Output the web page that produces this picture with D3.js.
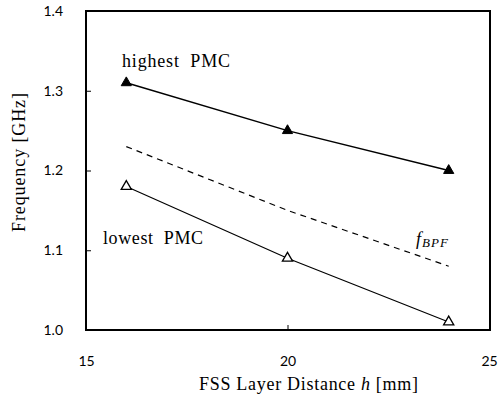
<!DOCTYPE html>
<html>
<head>
<meta charset="utf-8">
<script src="https://cdn.jsdelivr.net/npm/d3@7"></script>
<style>
  body { margin: 0; background: #fff; }
  svg text { fill: #000; }
</style>
</head>
<body>
<div class="chart"></div>
<script>
// data
var distance = [16, 20, 24];
var highestPMC = [1.31, 1.25, 1.20];
var lowestPMC = [1.18, 1.09, 1.01];
var fBPF = [1.23, 1.15, 1.08];
var xTicks = [15, 20, 25];
var yTicks = [1.0, 1.1, 1.2, 1.3, 1.4];

var svg = d3.select(".chart").append("svg")
    .attr("width", 500)
    .attr("height", 405);

var x = d3.scaleLinear().domain([15, 25]).range([86, 489]);
var y = d3.scaleLinear().domain([1.0, 1.4]).range([330, 11]);

// frame
svg.append("rect")
    .attr("x", x(15)).attr("y", y(1.4))
    .attr("width", x(25) - x(15) + 1).attr("height", y(1.0) - y(1.4))
    .attr("fill", "none").attr("stroke", "#000").attr("stroke-width", 2);

// axes, ticks pointing inward
var xAxis = d3.axisBottom(x).tickValues(xTicks).tickSize(-5).tickPadding(26)
    .tickFormat(d3.format("d"));
var gx = svg.append("g").attr("transform", "translate(0," + y(1.0) + ")").call(xAxis);
gx.select(".domain").remove();

var yAxis = d3.axisLeft(y).tickValues(yTicks).tickSize(-5).tickPadding(23)
    .tickFormat(d3.format(".1f"));
var gy = svg.append("g").attr("transform", "translate(" + x(15) + ",0)").call(yAxis);
gy.select(".domain").remove();

svg.selectAll(".tick line").attr("stroke", "#000").attr("stroke-width", 1);
svg.selectAll(".tick text")
    .style("font-family", "Lato, 'Open Sans', sans-serif")
    .style("font-size", "14px");

var line = d3.line()
    .x(function(d, i) { return x(distance[i]); })
    .y(function(d) { return y(d); });

svg.append("path").datum(highestPMC).attr("d", line)
    .attr("fill", "none").attr("stroke", "#000").attr("stroke-width", 1.5);
svg.append("path").datum(lowestPMC).attr("d", line)
    .attr("fill", "none").attr("stroke", "#000").attr("stroke-width", 1.2);
svg.append("path").datum(fBPF).attr("d", line)
    .attr("fill", "none").attr("stroke", "#000").attr("stroke-width", 1.2)
    .attr("stroke-dasharray", "6,5");

var tri = d3.symbol().type(d3.symbolTriangle).size(45);

svg.selectAll(".hi").data(highestPMC).enter().append("path")
    .attr("transform", function(d, i) { return "translate(" + x(distance[i]) + "," + y(d) + ")"; })
    .attr("d", tri).attr("fill", "#000").attr("stroke", "#000");

svg.selectAll(".lo").data(lowestPMC).enter().append("path")
    .attr("transform", function(d, i) { return "translate(" + x(distance[i]) + "," + y(d) + ")"; })
    .attr("d", tri).attr("fill", "#fff").attr("stroke", "#000").attr("stroke-width", 1.3);

var serif = "'Liberation Serif', 'Times New Roman', serif";

svg.append("text").attr("x", 122).attr("y", 67)
    .style("font-family", serif).style("font-size", "18px")
    .attr("xml:space", "preserve")
    .attr("textLength", 108).attr("lengthAdjust", "spacing")
    .text("highest  PMC");

svg.append("text").attr("x", 103).attr("y", 244)
    .style("font-family", serif).style("font-size", "18px")
    .attr("xml:space", "preserve")
    .attr("textLength", 100).attr("lengthAdjust", "spacing")
    .text("lowest  PMC");

var fl = svg.append("text").attr("x", 416).attr("y", 245)
    .style("font-family", serif).style("font-size", "18px").style("font-style", "italic");
fl.append("tspan").text("f");
fl.append("tspan").attr("dy", 2).attr("dx", 1).style("font-size", "13px")
    .style("letter-spacing", "1px").text("BPF");

var xt = svg.append("text").attr("x", 199).attr("y", 390)
    .style("font-family", serif).style("font-size", "18px")
    .attr("xml:space", "preserve")
    .attr("textLength", 219).attr("lengthAdjust", "spacing");
xt.append("tspan").text("FSS Layer Distance ");
xt.append("tspan").style("font-style", "italic").text("h");
xt.append("tspan").text(" [mm]");

svg.append("text")
    .attr("transform", "translate(25,162.5) rotate(-90)")
    .attr("text-anchor", "middle")
    .style("font-family", serif).style("font-size", "18px")
    .attr("textLength", 139).attr("lengthAdjust", "spacing")
    .text("Frequency [GHz]");
</script>
</body>
</html>
